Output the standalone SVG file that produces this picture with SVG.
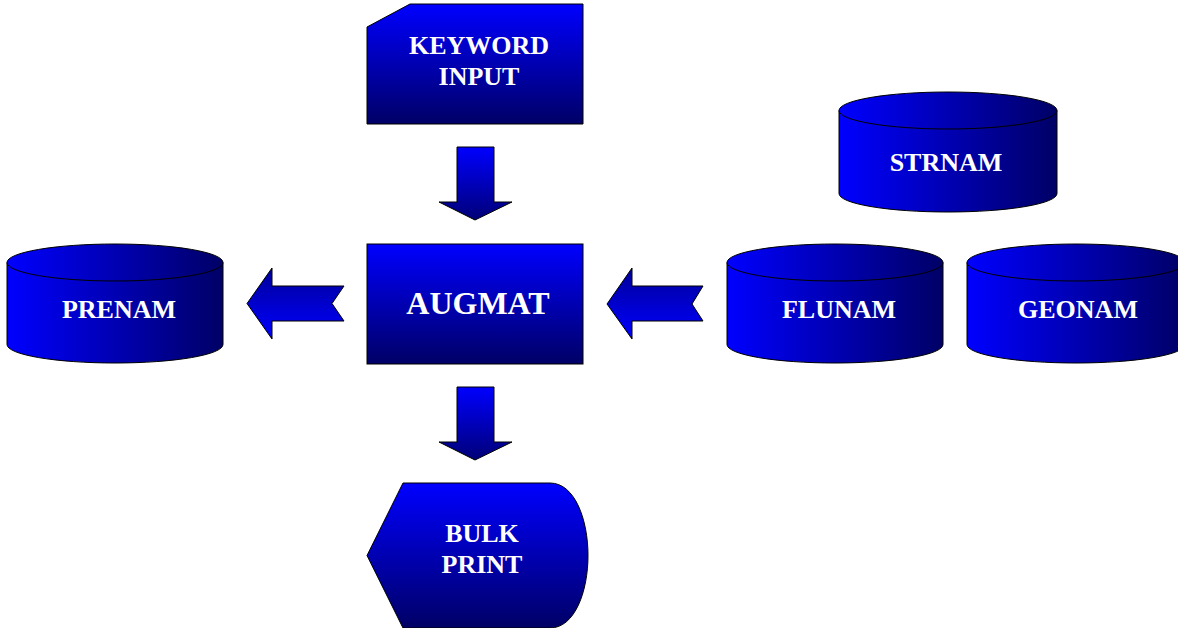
<svg xmlns="http://www.w3.org/2000/svg" width="1178" height="628" viewBox="0 0 1178 628">
  <defs>
    <linearGradient id="gv" x1="0" y1="0" x2="0" y2="1">
      <stop offset="0" stop-color="#0000FF"/>
      <stop offset="1" stop-color="#000066"/>
    </linearGradient>
    <linearGradient id="gh" x1="0" y1="0" x2="1" y2="0">
      <stop offset="0" stop-color="#0000FF"/>
      <stop offset="1" stop-color="#000066"/>
    </linearGradient>
    <linearGradient id="gdown" x1="0" y1="0" x2="0" y2="1">
      <stop offset="0" stop-color="#0000FF"/>
      <stop offset="1" stop-color="#000077"/>
    </linearGradient>
    <linearGradient id="gleft" x1="0" y1="0" x2="0" y2="1">
      <stop offset="0" stop-color="#000099"/>
      <stop offset="1" stop-color="#0000FF"/>
    </linearGradient>
  </defs>
  <style>
    .box { fill: url(#gv); stroke: #000; stroke-width: 1; }
    .cyl { fill: url(#gh); stroke: #000; stroke-width: 1; }
    .down { fill: url(#gdown); stroke: #000; stroke-width: 1; }
    .left { fill: url(#gleft); stroke: #000; stroke-width: 1; }
    .lbl { fill: #FFFFFF; font-family: "Liberation Serif", "Times New Roman", serif; font-weight: bold; font-size: 26px; text-anchor: middle; }
    .big { font-size: 32px; }
  </style>

  <g id="keyword-input">
    <path class="box" d="M367,27 L410,4 L583,4 L583,124 L367,124 Z"/>
    <text class="lbl" x="479" y="54">KEYWORD</text>
    <text class="lbl" x="479" y="85">INPUT</text>
  </g>

  <g id="augmat">
    <rect class="box" x="367" y="244" width="216" height="120"/>
    <text class="lbl big" x="478" y="314">AUGMAT</text>
  </g>

  <g id="bulk-print">
    <path class="box" d="M367,555.5 L403,483 L550,483 C575,483 588,520 588,555.5 C588,591 575,628 550,628 L403,628 Z"/>
    <text class="lbl" x="482" y="542">BULK</text>
    <text class="lbl" x="482" y="573">PRINT</text>
  </g>

  <g id="prenam">
    <path class="cyl" d="M7,262.5 L7,344.5 A108,18.5 0 0 0 223,344.5 L223,262.5 Z"/>
    <ellipse class="cyl" cx="115" cy="262.5" rx="108" ry="18.5"/>
    <text class="lbl" x="119" y="318">PRENAM</text>
  </g>

  <g id="strnam">
    <path class="cyl" d="M839,110.5 L839,193.5 A109,18.5 0 0 0 1057,193.5 L1057,110.5 Z"/>
    <ellipse class="cyl" cx="948" cy="110.5" rx="109" ry="18.5"/>
    <text class="lbl" x="946" y="171">STRNAM</text>
  </g>

  <g id="flunam">
    <path class="cyl" d="M727,262.5 L727,344.5 A108,18.5 0 0 0 943,344.5 L943,262.5 Z"/>
    <ellipse class="cyl" cx="835" cy="262.5" rx="108" ry="18.5"/>
    <text class="lbl" x="839" y="318">FLUNAM</text>
  </g>

  <g id="geonam">
    <path class="cyl" d="M967,262.5 L967,344.5 A109,18.5 0 0 0 1185,344.5 L1185,262.5 Z"/>
    <ellipse class="cyl" cx="1076" cy="262.5" rx="109" ry="18.5"/>
    <text class="lbl" x="1078" y="318">GEONAM</text>
  </g>

  <g id="connectors">
    <path class="down" d="M457,147 L494,147 L494,202 L512,202 L475,220 L439,202 L457,202 Z"/>
    <path class="down" d="M457,387 L494,387 L494,442 L512,442 L475,460 L439,442 L457,442 Z"/>
    <path class="left" d="M247,303.5 L272,268 L272,286 L344,286 L332,303.5 L344,321 L272,321 L272,339 Z"/>
    <path class="left" d="M607,304 L632,268 L632,286 L703,286 L692,304 L703,321 L632,321 L632,339 Z"/>
  </g>
</svg>
